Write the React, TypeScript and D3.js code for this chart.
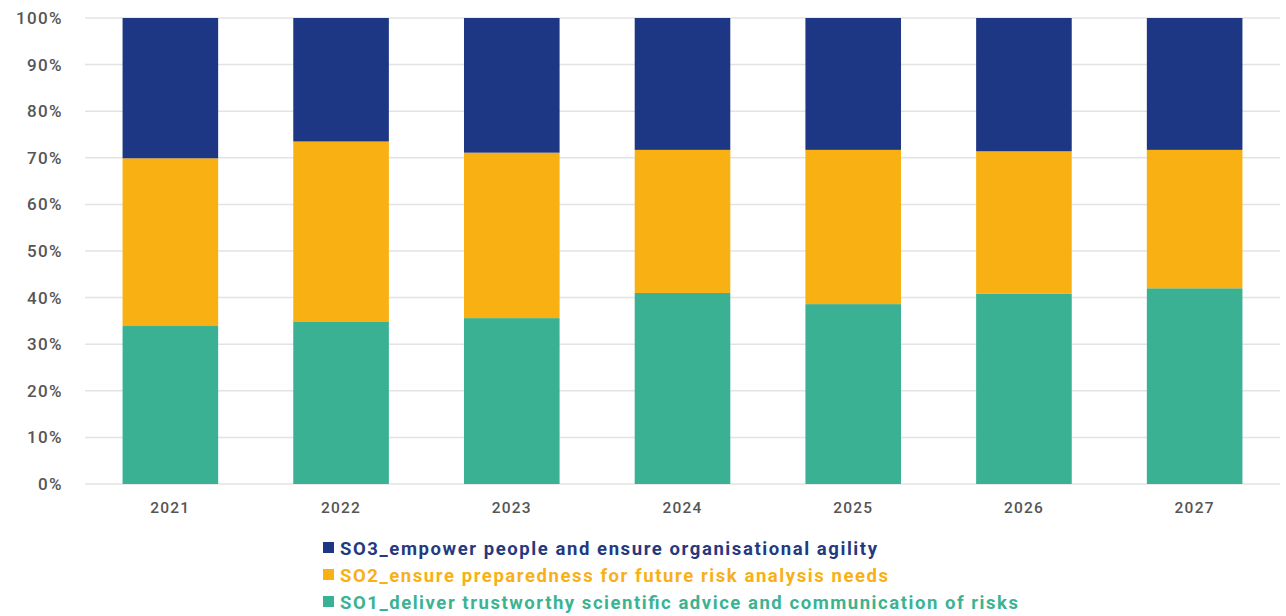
import React, {useEffect, useRef} from 'react';
import * as d3 from 'd3';

const years = ['2021', '2022', '2023', '2024', '2025', '2026', '2027'];
const so1 = [33.9, 34.9, 35.6, 41.0, 38.6, 40.8, 42.0];
const so2 = [36.0, 38.6, 35.5, 30.7, 33.1, 30.6, 29.7];
const so3 = [30.1, 26.5, 28.9, 28.3, 28.3, 28.6, 28.3];
const yTicks = [0, 10, 20, 30, 40, 50, 60, 70, 80, 90, 100];

const seriesKeys = ['SO1', 'SO2', 'SO3'];
const seriesNames = [
  'SO1_deliver trustworthy scientific advice and communication of risks',
  'SO2_ensure preparedness for future risk analysis needs',
  'SO3_empower people and ensure organisational agility',
];
const barColors = ['#3ab192', '#f8b013', '#1e3784'];
const textColors = ['#3bb393', '#f8b016', '#25397f'];

const W = 1286;
const H = 616;

const App = () => {
  const ref = useRef<SVGSVGElement>(null);

  useEffect(() => {
    const root = d3.select(ref.current);
    root.selectAll('*').remove();

    const margin = {top: 18, right: 6, bottom: 132, left: 85};
    const width = W - margin.left - margin.right;
    const height = H - margin.top - margin.bottom;

    const rows = years.map((y, i) => ({year: y, SO1: so1[i], SO2: so2[i], SO3: so3[i]}));
    const stacked = d3.stack<any>().keys(seriesKeys)(rows);

    const x = d3.scaleBand().domain(years).range([0, width]).paddingInner(0.44).paddingOuter(0.22);
    const y = d3.scaleLinear().domain([0, 100]).range([height, 0]);

    const g = root.append('g').attr('transform', `translate(${margin.left},${margin.top})`);

    // gridlines
    g.append('g')
      .selectAll('line')
      .data(yTicks)
      .join('line')
      .attr('x1', 0)
      .attr('x2', width)
      .attr('y1', d => y(d))
      .attr('y2', d => y(d))
      .attr('stroke', '#e3e3e3')
      .attr('stroke-width', 1.5);

    // y labels
    g.append('g')
      .selectAll('text')
      .data(yTicks)
      .join('text')
      .attr('x', -22)
      .attr('y', d => y(d))
      .attr('dy', '0.35em')
      .attr('text-anchor', 'end')
      .attr('fill', '#555')
      .attr('font-family', 'Roboto, sans-serif')
      .attr('font-weight', 500)
      .attr('font-size', 17)
      .attr('letter-spacing', 1.4)
      .text(d => `${d}%`);

    // bars
    g.append('g')
      .selectAll('g')
      .data(stacked)
      .join('g')
      .attr('fill', (_, i) => barColors[i])
      .selectAll('rect')
      .data(d => d)
      .join('rect')
      .attr('x', d => x(d.data.year)!)
      .attr('width', x.bandwidth())
      .attr('y', d => y(d[1]))
      .attr('height', d => y(d[0]) - y(d[1]));

    // x labels
    g.append('g')
      .selectAll('text')
      .data(years)
      .join('text')
      .attr('x', d => x(d)! + x.bandwidth() / 2)
      .attr('y', height + 29)
      .attr('text-anchor', 'middle')
      .attr('fill', '#555')
      .attr('font-family', 'Roboto, sans-serif')
      .attr('font-weight', 500)
      .attr('font-size', 15.5)
      .attr('letter-spacing', 1.2)
      .text(d => d);

    // legend (SO3 on top)
    const order = [2, 1, 0];
    const legendWidths = [678, 548, 537];
    const legend = root.append('g').attr('transform', 'translate(323,548)');
    const item = legend
      .selectAll('g')
      .data(order)
      .join('g')
      .attr('transform', (_, i) => `translate(0,${i * 27})`);
    item
      .append('rect')
      .attr('x', 0)
      .attr('y', -6)
      .attr('width', 11)
      .attr('height', 11)
      .attr('fill', d => barColors[d]);
    item
      .append('text')
      .attr('x', 17)
      .attr('y', 0)
      .attr('dy', '0.36em')
      .attr('fill', d => textColors[d])
      .attr('font-family', 'Roboto, sans-serif')
      .attr('font-weight', 700)
      .attr('font-size', 18.5)
      .attr('textLength', d => legendWidths[d])
      .attr('lengthAdjust', 'spacing')
      .text(d => seriesNames[d]);
  }, []);

  return (
    <svg
      ref={ref}
      width={W}
      height={H}
      style={{position: 'absolute', left: 0, top: 0, background: '#fff'}}
    />
  );
};

export default App;
